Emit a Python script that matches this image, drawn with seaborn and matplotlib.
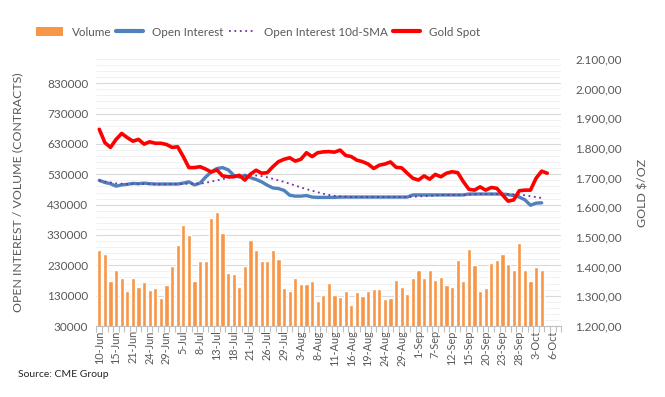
import numpy as np
import pandas as pd
import matplotlib
matplotlib.use("Agg")
import matplotlib.pyplot as plt
import seaborn as sns
from matplotlib.patches import Patch
from matplotlib.lines import Line2D
from matplotlib.ticker import FuncFormatter, FixedLocator

# ---------------- data ----------------
dates = [
    "10-Jun", "13-Jun", "14-Jun", "15-Jun", "16-Jun", "17-Jun", "21-Jun", "22-Jun", "23-Jun", "24-Jun",
    "27-Jun", "28-Jun", "29-Jun", "30-Jun",
    "1-Jul", "5-Jul", "6-Jul", "7-Jul", "8-Jul", "11-Jul", "12-Jul", "13-Jul", "14-Jul", "15-Jul",
    "18-Jul", "19-Jul", "20-Jul", "21-Jul", "22-Jul", "25-Jul", "26-Jul", "27-Jul", "28-Jul", "29-Jul",
    "1-Aug", "2-Aug", "3-Aug", "4-Aug", "5-Aug", "8-Aug", "9-Aug", "10-Aug", "11-Aug", "12-Aug",
    "15-Aug", "16-Aug", "17-Aug", "18-Aug", "19-Aug", "22-Aug", "23-Aug", "24-Aug", "25-Aug", "26-Aug",
    "29-Aug", "30-Aug", "31-Aug",
    "1-Sep", "2-Sep", "6-Sep", "7-Sep", "8-Sep", "9-Sep", "12-Sep", "13-Sep", "14-Sep", "15-Sep",
    "16-Sep", "19-Sep", "20-Sep", "21-Sep", "22-Sep", "23-Sep", "26-Sep", "27-Sep", "28-Sep", "29-Sep",
    "30-Sep",
    "3-Oct", "4-Oct", "5-Oct", "6-Oct", "7-Oct",
]

tick_labels = ["10-Jun", "15-Jun", "21-Jun", "24-Jun", "29-Jun", "5-Jul", "8-Jul", "13-Jul", "18-Jul",
               "21-Jul", "26-Jul", "29-Jul", "3-Aug", "8-Aug", "11-Aug", "16-Aug", "19-Aug", "24-Aug",
               "29-Aug", "1-Sep", "7-Sep", "12-Sep", "15-Sep", "20-Sep", "23-Sep", "28-Sep", "3-Oct", "6-Oct"]

left_ticks = [30000, 130000, 230000, 330000, 430000, 530000, 630000, 730000, 830000]
right_ticks = [1200, 1300, 1400, 1500, 1600, 1700, 1800, 1900, 2000, 2100]

volume = [279, 268, 180, 213, 187, 145, 187, 158, 175, 148,
          154, 122, 164, 227, 296, 364, 331, 178, 244, 244,
          386, 405, 335, 204, 200, 160, 227, 315, 282, 244,
          244, 280, 250, 154, 145, 187, 167, 167, 180, 112,
          131, 171, 131, 125, 145, 98, 142, 128, 145, 152,
          152, 118, 121, 183, 160, 137, 187, 213, 187, 216,
          183, 190, 164, 160, 249, 180, 285, 231, 147, 154,
          239, 249, 266, 236, 216, 305, 213, 180, 223, 213]  # thousands

open_interest = [510, 503, 499, 491, 495, 497, 500, 499, 501, 499,
                 498, 498, 498, 498, 498, 501, 505, 495, 501, 521,
                 538, 549, 552, 545, 527, 521, 527, 519, 513, 505,
                 494, 485, 483, 477, 461, 458, 458, 460, 455, 454,
                 454, 454, 454, 455, 455, 455, 455, 455, 455, 455,
                 455, 455, 455, 455, 455, 455, 462, 462, 462, 462,
                 462, 462, 462, 462, 462, 462, 465, 465, 465, 465,
                 465, 465, 465, 463, 460, 455, 446, 428, 435, 436]  # thousands

oi_sma = [510, 506, 503, 500, 499, 498, 498, 498, 498, 498,
          497, 497, 497, 498, 498, 498, 499, 499, 499, 502,
          506, 510, 514, 518, 521, 524, 526, 527, 526, 524,
          520, 515, 510, 505, 499, 493, 487, 481, 476, 471,
          466, 462, 459, 457, 456, 455, 455, 455, 455, 455,
          455, 455, 455, 455, 455, 455, 456, 457, 458, 459,
          460, 462, 462, 462, 462, 462, 463, 464, 465, 465,
          465, 465, 465, 465, 464, 463, 461, 458, 455, 452]  # thousands

gold = [1863, 1818, 1802, 1829, 1849, 1835, 1823, 1829, 1813, 1821,
        1816, 1816, 1812, 1802, 1804, 1771, 1734, 1734, 1737, 1729,
        1719, 1726, 1706, 1703, 1703, 1708, 1692, 1712, 1725, 1715,
        1717, 1737, 1754, 1762, 1767, 1756, 1762, 1784, 1771, 1784,
        1787, 1788, 1786, 1793, 1775, 1771, 1759, 1754, 1746, 1731,
        1742, 1746, 1753, 1735, 1733, 1715, 1698, 1692, 1706, 1695,
        1711, 1703, 1715, 1720, 1717, 1687, 1661, 1658, 1669, 1658,
        1667, 1664, 1642, 1621, 1625, 1656, 1658, 1658, 1698, 1722,
        1715]

# ---------------- style ----------------
sns.set_theme(style="white")
plt.rcParams["font.family"] = ["Lato", "DejaVu Sans"]

C_VOL = "#F79646"
C_OI = "#4F81BD"
C_SMA = "#7030A0"
C_GOLD = "#FF0000"
C_TXT = "#595959"

fig = plt.figure(figsize=(6.65, 3.97), dpi=100)
ax = fig.add_axes([0.1451, 0.1788, 0.6989, 0.6726])

df_vol = pd.DataFrame({"date": dates[:len(volume)], "volume": np.array(volume) * 1000})
sns.barplot(data=df_vol, x="date", y="volume", order=dates, color=C_VOL,
            saturation=1, width=0.74, ax=ax, zorder=2)

idx_oi = np.arange(len(open_interest))
df_oi = pd.DataFrame({"i": idx_oi, "oi": np.array(open_interest) * 1000,
                      "sma": np.array(oi_sma) * 1000})
sns.lineplot(data=df_oi, x="i", y="oi", color=C_OI, linewidth=2.4, ax=ax, zorder=4)
sns.lineplot(data=df_oi, x="i", y="sma", color=C_SMA, linewidth=1.3,
             linestyle=(0, (1, 2)), ax=ax, zorder=5)

ax.set_xlim(-0.5, len(dates) - 0.5)
ax.set_ylim(30000, 910000)
ax.yaxis.set_major_locator(FixedLocator(left_ticks))
ax.yaxis.set_minor_locator(FixedLocator(np.arange(30000, 910001, 20000)))
ax.yaxis.set_major_formatter(FuncFormatter(lambda v, p: f"{int(round(v))}"))
ax.grid(which="major", axis="y", color="#D9D9D9", linewidth=0.8)
ax.grid(which="minor", axis="y", color="#EFEFEF", linewidth=0.6)
ax.grid(False, axis="x")
ax.set_axisbelow(True)

tick_pos = [dates.index(t) for t in tick_labels]
ax.set_xticks(tick_pos)
ax.set_xticklabels(tick_labels, rotation=90, fontsize=7.8, color=C_TXT)
ax.set_xticks(np.arange(len(dates) + 1) - 0.5, minor=True)
ax.tick_params(axis="x", which="major", length=0, pad=3)
ax.tick_params(axis="x", which="minor", length=4, color="#BFBFBF", width=0.8, bottom=True)
ax.tick_params(axis="y", which="both", length=0, labelsize=8.5, labelcolor=C_TXT, pad=6)
ax.set_xlabel("")
ax.set_ylabel("OPEN INTEREST / VOLUME (CONTRACTS)", fontsize=8.9, color=C_TXT)
ax.yaxis.set_label_coords(-0.158, 0.5)

for s in ["top", "right", "left"]:
    ax.spines[s].set_visible(False)
ax.spines["bottom"].set_color("#BFBFBF")
ax.spines["bottom"].set_linewidth(0.8)

ax2 = ax.twinx()
df_gold = pd.DataFrame({"i": np.arange(len(gold)), "gold": gold})
sns.lineplot(data=df_gold, x="i", y="gold", color=C_GOLD, linewidth=2.6, ax=ax2, zorder=6)
ax2.set_ylim(1200, 2100)
ax2.yaxis.set_major_locator(FixedLocator(right_ticks))
ax2.yaxis.set_major_formatter(FuncFormatter(
    lambda v, p: f"{v:,.2f}".replace(",", "X").replace(".", ",").replace("X", ".")))
ax2.tick_params(axis="y", which="both", length=0, labelsize=8.5, labelcolor=C_TXT, pad=10)
ax2.set_ylabel("GOLD $/OZ", fontsize=8.9, color=C_TXT, rotation=90)
ax2.yaxis.set_label_coords(1.163, 0.5)
ax2.set_xlabel("")
ax2.grid(False)
for s in ["top", "right", "left", "bottom"]:
    ax2.spines[s].set_visible(False)
ax2.set_xlim(-0.5, len(dates) - 0.5)

handles = [
    Patch(facecolor=C_VOL, edgecolor="none"),
    Line2D([0], [0], color=C_OI, linewidth=3),
    Line2D([0], [0], color=C_SMA, linewidth=1.3, linestyle=(0, (1, 2))),
    Line2D([0], [0], color=C_GOLD, linewidth=3),
]
labels = ["Volume", "Open Interest", "Open Interest 10d-SMA", "Gold Spot"]
fig.legend(handles, labels, loc="center", bbox_to_anchor=(0.388, 0.919), ncol=4,
           frameon=False, fontsize=8.4, handlelength=2.3, handletextpad=0.75,
           columnspacing=0.45, labelcolor=C_TXT, handleheight=0.9)

fig.text(0.027, 0.05, "Source: CME Group", fontsize=7.5, color="#262626")

fig.savefig("out.png", dpi=100)
